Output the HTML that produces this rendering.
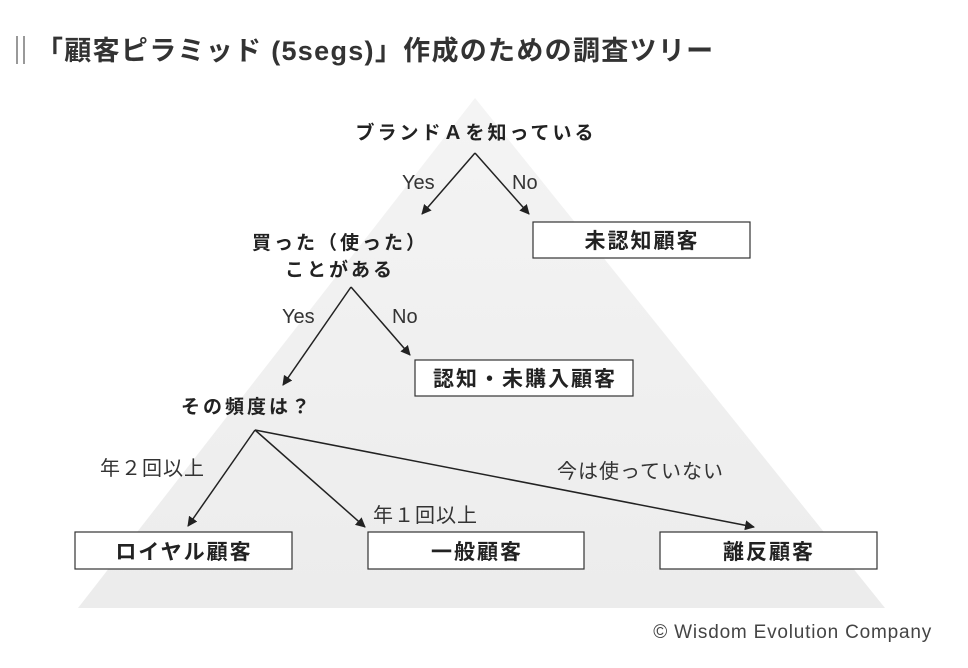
<!DOCTYPE html>
<html><head><meta charset="utf-8"><style>
body{margin:0;width:968px;height:668px;background:#fff;overflow:hidden;font-family:"Liberation Sans","Noto Sans CJK JP",sans-serif;}
</style></head><body>
<svg width="968" height="668" xmlns="http://www.w3.org/2000/svg" style="position:absolute;left:0;top:0">
<defs>
<linearGradient id="g" x1="0" y1="0" x2="0" y2="1"><stop offset="0" stop-color="#f4f4f4"/><stop offset="1" stop-color="#ececec"/></linearGradient>
<marker id="a" markerWidth="10" markerHeight="10" refX="9" refY="5" orient="auto" markerUnits="userSpaceOnUse"><path d="M0,0 L10,5 L0,10 z" fill="#222"/></marker>
</defs>
<polygon points="475,98 885,608 78,608" fill="url(#g)"/>
<g font-family="'Liberation Sans','Noto Sans CJK JP',sans-serif">
<line x1="17" y1="36" x2="17" y2="64" stroke="#777" stroke-width="1.5"/>
<line x1="24" y1="36" x2="24" y2="64" stroke="#777" stroke-width="1.5"/>
<text x="36" y="60" font-size="27" font-weight="bold" fill="#333" letter-spacing="1.3">「顧客ピラミッド (5segs)」作成のための調査ツリー</text>
<g font-size="19" font-weight="bold" fill="#222" text-anchor="middle" letter-spacing="3">
<text x="476" y="139">ブランドＡを知っている</text>
<text x="340" y="249">買った（使った）</text>
<text x="340" y="276">ことがある</text>
<text x="247" y="413">その頻度は？</text>
</g>
<g font-size="20" fill="#333">
<text x="402" y="189">Yes</text><text x="512" y="189">No</text>
<text x="282" y="323">Yes</text><text x="392" y="323">No</text>
<text x="100" y="475" letter-spacing="1">年２回以上</text>
<text x="373" y="522" letter-spacing="1">年１回以上</text>
<text x="557" y="478" letter-spacing="1">今は使っていない</text>
</g>
<g stroke="#222" stroke-width="1.5" fill="none">
<line x1="475" y1="153" x2="422" y2="214" marker-end="url(#a)"/>
<line x1="475" y1="153" x2="529" y2="214" marker-end="url(#a)"/>
<line x1="351" y1="287" x2="283" y2="385" marker-end="url(#a)"/>
<line x1="351" y1="287" x2="410" y2="355" marker-end="url(#a)"/>
<line x1="255" y1="430" x2="188" y2="526" marker-end="url(#a)"/>
<line x1="255" y1="430" x2="365" y2="527" marker-end="url(#a)"/>
<line x1="255" y1="430" x2="754" y2="527" marker-end="url(#a)"/>
</g>
<g stroke="#333" stroke-width="1.2" fill="#fff">
<rect x="533" y="222" width="217" height="36"/>
<rect x="415" y="360" width="218" height="36"/>
<rect x="75" y="532" width="217" height="37"/>
<rect x="368" y="532" width="216" height="37"/>
<rect x="660" y="532" width="217" height="37"/>
</g>
<g font-size="21" font-weight="bold" fill="#222" text-anchor="middle" letter-spacing="2">
<text x="642" y="248">未認知顧客</text>
<text x="525" y="386">認知・未購入顧客</text>
<text x="184" y="559">ロイヤル顧客</text>
<text x="477" y="559">一般顧客</text>
<text x="769" y="559">離反顧客</text>
</g>
<text x="932" y="638" font-size="19" fill="#444" text-anchor="end" letter-spacing="0.8">© Wisdom Evolution Company</text>
</g>
</svg>
</body></html>
